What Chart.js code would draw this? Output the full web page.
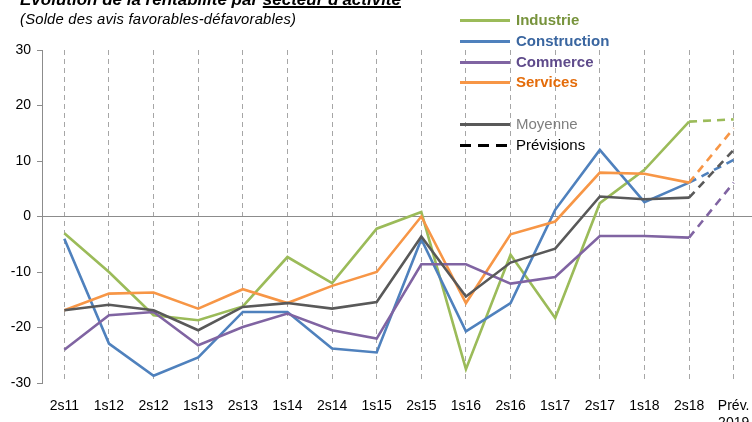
<!DOCTYPE html>
<html lang="fr">
<head>
<meta charset="utf-8">
<script src="https://cdn.jsdelivr.net/npm/chart.js@4"></script>
<style>
  html, body { margin: 0; padding: 0; background: #fff; overflow: hidden; }
  body { width: 752px; height: 422px; position: relative; font-family: "Liberation Sans", Arial, sans-serif; }
  #chart { position: absolute; left: 0; top: 0; }
  .titre { position: absolute; left: 20px; top: -10px; font-size: 17px; font-weight: bold; font-style: italic; white-space: nowrap; color: #000; }
  .titre u { text-decoration-thickness: 1.5px; }
  .sous-titre { position: absolute; left: 20px; top: 11px; font-size: 14.8px; letter-spacing: 0.2px; font-style: italic; white-space: nowrap; color: #000; }
  .legende { position: absolute; left: 460px; top: 0; }
  .item { position: absolute; left: 0; width: 200px; height: 20px; }
  .item .trait { position: absolute; left: 0; top: 9px; width: 50px; height: 3px; }
  .item span { position: absolute; left: 56px; top: 1px; font-size: 15px; white-space: nowrap; }
</style>
</head>
<body>
<canvas id="chart" width="760" height="422"></canvas>

<div class="titre">Evolution de la rentabilité par <u>secteur d'activité</u></div>
<div class="sous-titre">(Solde des avis favorables-défavorables)</div>

<div class="legende">
  <div class="item" style="top:10px"><div class="trait" style="background:#9BBB59"></div><span style="color:#77933C;font-weight:bold">Industrie</span></div>
  <div class="item" style="top:31px"><div class="trait" style="background:#4F81BD"></div><span style="color:#3A66A0;font-weight:bold">Construction</span></div>
  <div class="item" style="top:52px"><div class="trait" style="background:#8064A2"></div><span style="color:#5F4B8B;font-weight:bold">Commerce</span></div>
  <div class="item" style="top:72px"><div class="trait" style="background:#F79646"></div><span style="color:#E46C0A;font-weight:bold">Services</span></div>
  <div class="item" style="top:114px"><div class="trait" style="background:#595959"></div><span style="color:#7F7F7F">Moyenne</span></div>
  <div class="item" style="top:135px"><div class="trait" style="background:repeating-linear-gradient(90deg,#000 0 11px,transparent 11px 18px)"></div><span style="color:#000">Prévisions</span></div>
</div>

<script>
// ========================
// DONNÉES
// ========================

const periodes = ['2s11', '1s12', '2s12', '1s13', '2s13', '1s14', '2s14', '1s15',
  '2s15', '1s16', '2s16', '1s17', '2s17', '1s18', '2s18', ['Prév.', '2019']];

const industrie    = [-3, -10, -17.8, -18.7, -16.2, -7.3, -12, -2.2, 0.8, -27.5, -6.9, -18.3, 2.4, 8.4, 17.1, 17.5];
const construction = [-4, -22.9, -28.7, -25.4, -17.2, -17.2, -23.8, -24.5, -4.1, -20.7, -15.6, 1.2, 12, 2.6, 6.1, 10.2];
const commerce     = [-24, -17.8, -17.2, -23.2, -19.9, -17.5, -20.5, -22, -8.6, -8.6, -12.1, -10.9, -3.5, -3.5, -3.8, 6.1];
const services     = [-16.9, -13.9, -13.7, -16.6, -13.1, -15.6, -12.5, -10, 0, -15.6, -3.2, -0.9, 7.9, 7.7, 6.1, 15.9];
const moyenne      = [-16.9, -15.9, -16.9, -20.5, -16.3, -15.6, -16.6, -15.4, -3.6, -14.4, -8.3, -5.8, 3.6, 3.1, 3.4, 12];

const yTicks = [-30, -20, -10, 0, 10, 20, 30];

// dernier segment = prévision (pointillés)
const derniere = periodes.length - 1;

function serie(label, data, color) {
  return {
    label: label,
    data: data,
    borderColor: color,
    backgroundColor: color,
    borderWidth: 2.6,
    pointRadius: 0,
    tension: 0,
    segment: {
      borderDash: c => c.p1DataIndex === derniere ? [8, 6] : undefined
    }
  };
}

// ========================
// GRAPHIQUE
// ========================

new Chart(document.getElementById('chart'), {
  type: 'line',
  data: {
    labels: periodes,
    datasets: [
      serie('Moyenne', moyenne, '#595959'),
      serie('Commerce', commerce, '#8064A2'),
      serie('Services', services, '#F79646'),
      serie('Construction', construction, '#4F81BD'),
      serie('Industrie', industrie, '#9BBB59')
    ]
  },
  options: {
    responsive: false,
    animation: false,
    layout: { padding: { top: 50, right: 4, bottom: 0, left: 0 } },
    plugins: {
      legend: { display: false },
      tooltip: { enabled: false }
    },
    scales: {
      x: {
        offset: true,
        afterFit: s => {
          s.height = 39;
          s.paddingLeft = 0;
          s.paddingRight = 0;
        },
        grid: {
          offset: false,
          drawTicks: false,
          color: '#A6A6A6',
          lineWidth: 1
        },
        border: { display: false, dash: [5, 4] },
        ticks: {
          padding: 15,
          maxRotation: 0,
          autoSkip: false,
          color: '#000',
          font: { family: '"Liberation Sans", Arial, sans-serif', size: 14 }
        }
      },
      y: {
        min: -30,
        max: 30,
        afterFit: s => { s.width = 42; },
        afterBuildTicks: s => { s.ticks = yTicks.map(v => ({ value: v })); },
        border: { display: true, color: '#8C8C8C', width: 1 },
        grid: {
          color: c => c.tick && c.tick.value === 0 ? '#8C8C8C' : 'rgba(0,0,0,0)',
          tickColor: '#8C8C8C',
          tickLength: 5,
          lineWidth: 1
        },
        ticks: {
          padding: 6,
          color: '#000',
          font: { family: '"Liberation Sans", Arial, sans-serif', size: 14 }
        }
      }
    }
  }
});
</script>
</body>
</html>
